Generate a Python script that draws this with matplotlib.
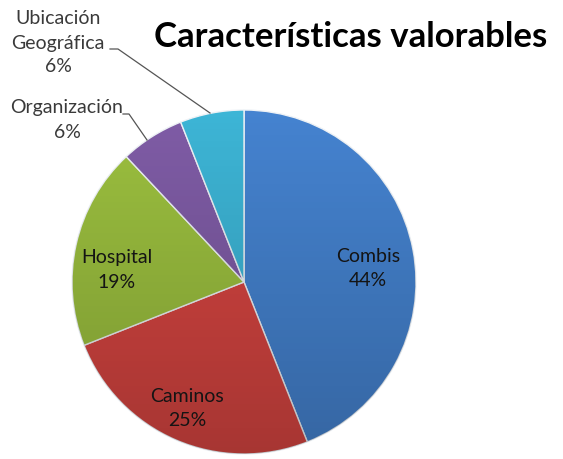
import numpy as np
import matplotlib.pyplot as plt
from matplotlib.patches import Circle

labels = ["Combis", "Caminos", "Hospital", "Organización", "Ubicación\nGeográfica"]
values = [44, 25, 19, 6, 6]
colors = ["#4583d0", "#d64541", "#9cc03f", "#7f5ca6", "#3db5d6"]

W, H = 563, 459
fig = plt.figure(figsize=(W / 100, H / 100), dpi=100)
ax = fig.add_axes([0, 0, 1, 1])

cx, cy, r = 244, H - 282, 172
wedges, _ = ax.pie(values, colors=colors, startangle=90, counterclock=False,
                   center=(cx, cy), radius=r,
                   wedgeprops=dict(edgecolor="#eef2f6", linewidth=1.0))

# soft vertical shading over the pie (lighter top, darker bottom)
grad = np.linspace(0, 1, 256).reshape(-1, 1)
shade = np.zeros((256, 1, 4))
shade[..., 3] = 0.22 * grad  # alpha grows towards the bottom
im = ax.imshow(shade, extent=(cx - r, cx + r, cy - r, cy + r), origin="upper",
               aspect="auto", zorder=3)
im.set_clip_path(Circle((cx, cy), r, transform=ax.transData))

ax.set_xlim(0, W)
ax.set_ylim(0, H)
ax.set_aspect("equal")
ax.axis("off")

font = "Lato"
ls = 1.5
ax.text(351, H - 37, "Características valorables", ha="center", va="center",
        fontsize=25, fontweight="bold", family=font, color="black")

# labels inside slices
inside = {0: (368, 268), 1: (187, 408), 2: (117, 270)}
for i, (x, y) in inside.items():
    ax.text(x, H - y, f"{labels[i]}\n{values[i]}%", ha="center", va="center",
            fontsize=14, family=font, color="#141414", linespacing=ls, zorder=5)

# labels outside with leader lines
ax.text(67, H - 120, f"{labels[3]}\n{values[3]}%", ha="center", va="center",
        fontsize=14, family=font, color="#3a3a3a", linespacing=ls)
ax.text(58, H - 43, f"{labels[4]}\n{values[4]}%", ha="center", va="center",
        fontsize=14, family=font, color="#3a3a3a", linespacing=ls)
ax.plot([123, 129, 147], [H - 114, H - 114, H - 140], color="#555555", lw=0.9)
ax.plot([110, 118, 210], [H - 49, H - 49, H - 113], color="#555555", lw=0.9)

fig.savefig("out.png", dpi=100)
